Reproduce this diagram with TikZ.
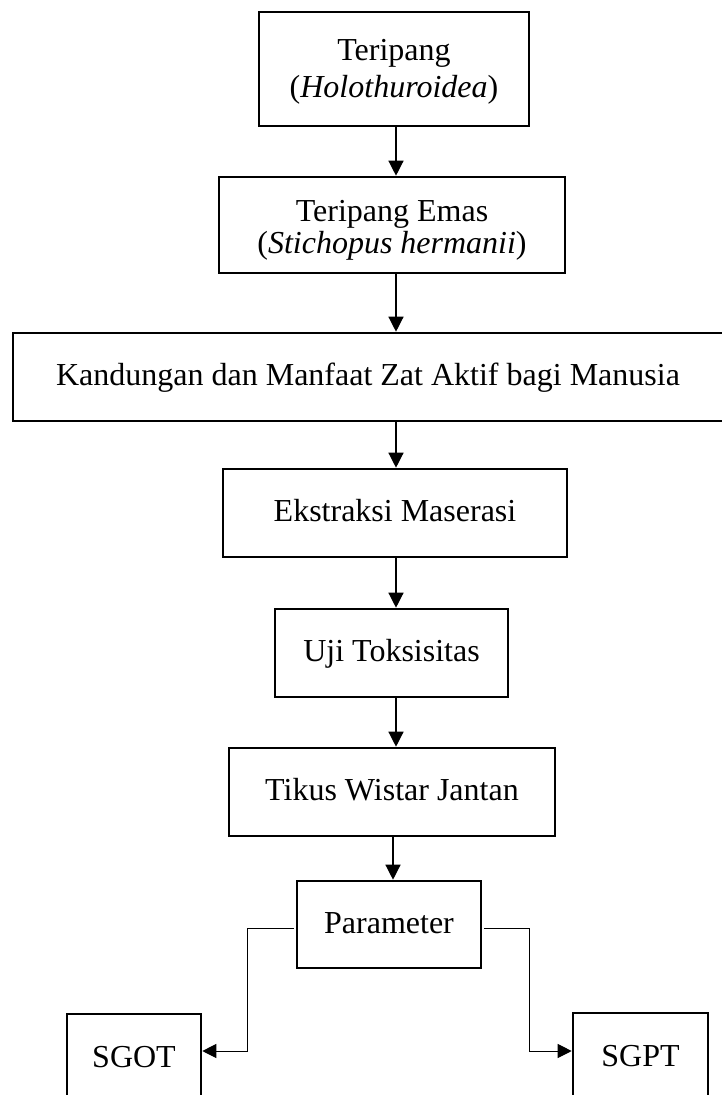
\documentclass[tikz,border=0pt]{standalone}
\usepackage{fontspec}
\setmainfont{Liberation Serif}
\usetikzlibrary{arrows.meta}
\begin{document}
\begin{tikzpicture}[x=1pt,y=-1pt,
  box/.style={draw=black, line width=2.6pt, rectangle, inner sep=0pt, align=center, font=\fontsize{32}{37}\selectfont},
  onebox/.style={box, text height=22pt, text depth=5pt},
  arr/.style={line width=1.3pt, -{Triangle[width=15pt,length=15pt]}},
  arrthin/.style={line width=1pt, -{Triangle[width=14pt,length=14pt]}}]
\useasboundingbox (0,0) rectangle (722,1095);
\node[box, minimum width=270pt, minimum height=114pt] (b1) at (394,69) {\rule{0pt}{26pt}Teripang\\(\textit{Holothuroidea})};
\node[box, minimum width=346pt, minimum height=96pt, font=\fontsize{32}{32}\selectfont] (b2) at (392,225) {\rule{0pt}{32pt}Teripang Emas\\(\textit{Stichopus hermanii})};
\node[onebox, minimum width=710pt, minimum height=88pt] (b3) at (368,377) {Kandungan dan Manfaat Zat Aktif bagi Manusia};
\node[onebox, minimum width=344pt, minimum height=88pt] (b4) at (395,513) {Ekstraksi Maserasi};
\node[onebox, minimum width=233pt, minimum height=88pt] (b5) at (391.5,653) {Uji Toksisitas};
\node[onebox, minimum width=326pt, minimum height=88pt] (b6) at (392,792) {Tikus Wistar Jantan};
\node[onebox, minimum width=184pt, minimum height=87pt] (b7) at (389,924.5) {Parameter};
\node[box, minimum width=134pt, minimum height=86pt] (b8) at (134,1057) {SGOT};
\node[box, minimum width=135pt, minimum height=86pt] (b9) at (640.5,1056) {SGPT};
\coordinate (ax) at (396,0);
\coordinate (ax2) at (393,0);
\draw[arr] (b1.south -| ax) -- (b2.north -| ax);
\draw[arr] (b2.south -| ax) -- (b3.north -| ax);
\draw[arr] (b3.south -| ax) -- (b4.north -| ax);
\draw[arr] (b4.south -| ax) -- (b5.north -| ax);
\draw[arr] (b5.south -| ax) -- (b6.north -| ax);
\draw[arr] (b6.south -| ax2) -- (b7.north -| ax2);
\coordinate (ly) at (0,928);
\coordinate (lb) at (0,1051);
\coordinate (lx) at (247,0);
\coordinate (rx) at (529,0);
\draw[arrthin] ([xshift=-2pt]b7.west |- ly) -- (lx |- ly) -- (lx |- lb) -- (b8.east |- lb);
\draw[arrthin] ([xshift=2pt]b7.east |- ly) -- (rx |- ly) -- (rx |- lb) -- (b9.west |- lb);
\end{tikzpicture}
\end{document}
